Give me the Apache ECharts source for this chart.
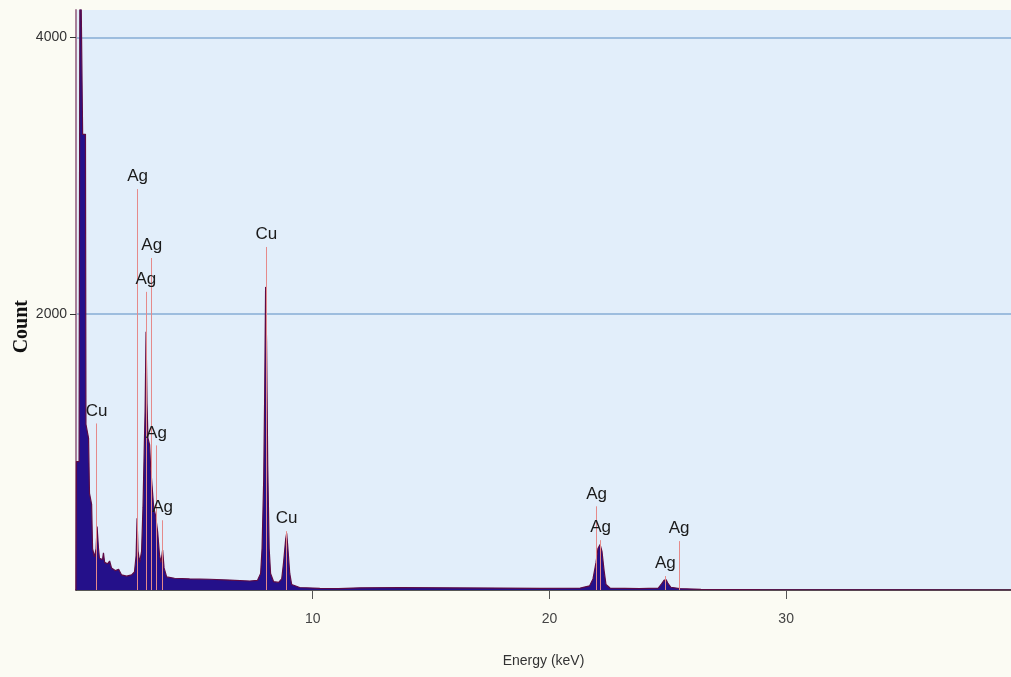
<!DOCTYPE html>
<html>
<head>
<meta charset="utf-8">
<style>
html,body{margin:0;padding:0;background:#fbfbf3;}
#chart{width:1011px;height:677px;}
</style>
<script src="https://cdn.jsdelivr.net/npm/echarts@6/dist/echarts.min.js"></script>
</head>
<body>
<div id="chart"></div>
<script>
// Spectrum: energy (keV) and counts
const energy = [0.00,0.02,0.13,0.17,0.25,0.28,0.40,0.42,0.49,0.53,0.57,0.66,0.70,0.78,0.85,0.89,0.95,0.99,1.12,1.16,1.21,1.33,1.42,1.50,1.67,1.80,1.92,2.14,2.35,2.47,2.54,2.58,2.62,2.69,2.77,2.83,2.88,2.92,2.96,3.00,3.04,3.11,3.15,3.21,3.28,3.36,3.45,3.53,3.59,3.66,3.72,3.83,4.16,4.80,5.65,6.50,7.34,7.67,7.80,7.86,7.93,7.97,8.01,8.05,8.10,8.16,8.22,8.35,8.56,8.69,8.77,8.86,8.90,8.94,9.03,9.11,9.45,10.30,11.10,12.00,13.70,15.80,17.90,19.60,21.30,21.70,21.84,21.97,22.05,22.14,22.22,22.31,22.39,22.56,23.80,24.60,24.72,24.84,24.93,25.00,25.13,25.50,26.40,28.90,34.80,39.50];
const counts = [0,930,930,5000,5000,3300,3300,1200,1200,1100,700,620,300,240,300,460,300,230,220,270,200,190,210,160,140,150,110,100,110,130,250,520,280,200,280,600,1000,1300,1870,1350,1100,1050,900,760,600,540,420,250,200,290,160,95,85,80,78,72,65,70,120,300,800,1400,2195,1800,900,300,120,60,55,80,200,370,410,330,120,40,18,12,10,16,18,16,14,12,14,30,80,200,300,330,280,140,40,14,10,14,40,70,75,50,20,10,4,2,1,0];

// Peak identification markers
const markerNames = ['Cu','Ag','Ag','Ag','Ag','Ag','Cu','Cu','Ag','Ag','Ag','Ag'];
const markerEnergy = [0.87,2.60,2.95,3.20,3.40,3.66,8.04,8.90,21.99,22.16,24.90,25.48];
const markerTop = [1206,2903,2159,2404,1047,505,2484,426,606,361,101,354];

// Axis ticks
const xTicks = [10,20,30];
const yTicks = [2000,4000];

const narrow = "'Liberation Sans Narrow','Liberation Sans',Arial,sans-serif";

const spectrum = energy.map((e,i)=>[e,counts[i]]);
const markLines = markerEnergy.map((e,i)=>[
  {coord:[e,0]},
  {coord:[e,markerTop[i]], label:{formatter: markerNames[i]}}
]);

const chart = echarts.init(document.getElementById('chart'));
chart.setOption({
  backgroundColor:'#fbfbf3',
  animation:false,
  grid:{left:76,top:10,right:0,bottom:87,show:true,backgroundColor:'#e2eefa',borderWidth:0},
  xAxis:{
    type:'value',min:0,max:39.5,interval:10,
    name:'Energy (keV)',nameLocation:'middle',nameGap:64,
    nameTextStyle:{fontFamily:narrow,fontSize:14,color:'#333'},
    axisLine:{show:true,lineStyle:{color:'#222',width:1.5}},
    axisTick:{show:true,length:9,customValues:xTicks,lineStyle:{color:'#555'}},
    axisLabel:{customValues:xTicks,formatter:v=>String(v),fontFamily:narrow,fontSize:14,color:'#444',margin:22},
    splitLine:{show:false}
  },
  yAxis:{
    type:'value',min:0,max:4200,interval:2000,
    axisLine:{show:true,onZero:false,lineStyle:{color:'#a88098',width:2}},
    axisTick:{show:true,length:6,customValues:yTicks,lineStyle:{color:'#333'}},
    axisLabel:{customValues:yTicks,formatter:v=>String(v),fontFamily:narrow,fontSize:14,color:'#333',margin:9},
    splitLine:{show:true,lineStyle:{color:'#86acd4',width:1.5}}
  },
  graphic:[{
    type:'text',left:12,top:300,rotation:Math.PI/2,
    style:{text:'Count',font:"bold 20px 'Liberation Serif','DejaVu Serif',serif",fill:'#111'}
  }],
  series:[{
    type:'line',data:spectrum,showSymbol:false,clip:true,
    lineStyle:{color:'#5e0b45',width:1.2},
    areaStyle:{color:'#24108a',opacity:1},
    markLine:{
      symbol:'none',silent:true,animation:false,
      lineStyle:{color:'#e58a8a',width:1,type:'solid'},
      label:{show:true,position:'end',distance:4,fontFamily:narrow,fontSize:17,color:'#1a1a1a'},
      data:markLines
    }
  }]
});
</script>
</body>
</html>
